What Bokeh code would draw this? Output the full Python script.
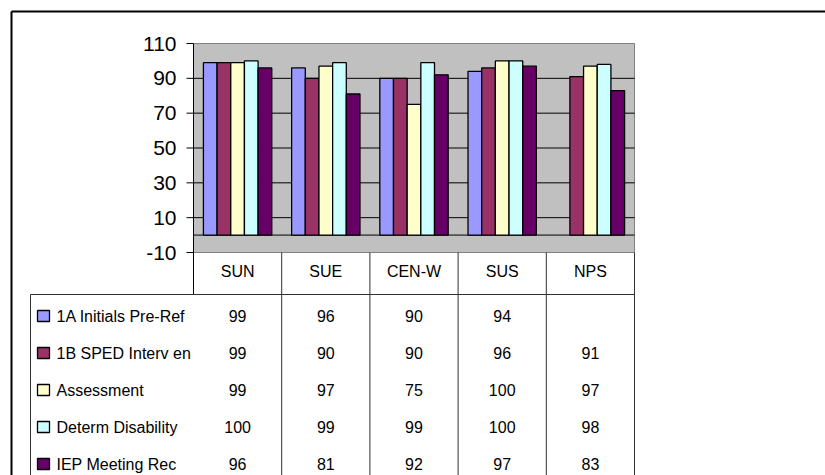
from bokeh.plotting import figure
from bokeh.models import Range1d, ColumnDataSource
from bokeh.transform import dodge
from bokeh.core.properties import value
from bokeh.embed import file_html
from bokeh.resources import INLINE

# ---------------- data ----------------
categories = ["SUN", "SUE", "CEN-W", "SUS", "NPS"]
series_names = ["1A Initials Pre-Ref", "1B SPED Interv en", "Assessment",
                "Determ Disability", "IEP Meeting Rec"]
initials_pre_ref = [99, 96, 90, 94, None]
sped_interven = [99, 90, 90, 96, 91]
assessment = [99, 97, 75, 100, 97]
determ_disability = [100, 99, 99, 100, 98]
iep_meeting_rec = [96, 81, 92, 97, 83]
y_ticks = [-10, 10, 30, 50, 70, 90, 110]
grid_ticks = [10, 30, 50, 70, 90]

series_values = [initials_pre_ref, sped_interven, assessment,
                 determ_disability, iep_meeting_rec]
colors = ["#9999FF", "#993366", "#FFFFCC", "#CCFFFF", "#660066"]

# ---------------- layout constants (page pixels) ----------------
W, H = 825, 475
PA_L, PA_R, PA_T, PA_B = 193, 634, 43, 252     # plot area
Y_MIN, Y_MAX = y_ticks[0], y_ticks[-1]
n = len(categories)
CAT_W = (PA_R - PA_L) / n                        # px per category
PX_PER_UNIT = (PA_B - PA_T) / (Y_MAX - Y_MIN)    # px per value unit
BAR_W = 0.155
FONT = "Liberation Sans"


def px_x(px):
    return (px - PA_L) / CAT_W


p = figure(width=W, height=H, output_backend="svg", toolbar_location=None,
           x_axis_type=None, y_axis_type=None, min_border=0,
           x_range=Range1d(px_x(0), px_x(W)),
           y_range=Range1d(Y_MIN - (H - PA_B) / PX_PER_UNIT,
                           Y_MAX + PA_T / PX_PER_UNIT))
# table rows measured downward in pixels from the plot-area bottom
p.extra_y_ranges = {"table": Range1d(H - PA_B, -PA_B)}
p.outline_line_color = None
p.background_fill_color = "white"
p.border_fill_color = "white"
p.grid.visible = False

# ---------------- chart area ----------------
p.quad(left=[0], right=[n], bottom=[Y_MIN], top=[Y_MAX],
       fill_color="#C0C0C0", line_color="#808080", line_width=1)
p.segment(x0=[0] * len(grid_ticks), x1=[n] * len(grid_ticks),
          y0=grid_ticks, y1=grid_ticks, line_color="black", line_width=1)
p.segment(x0=[0], x1=[n], y0=[0], y1=[0], line_color="black", line_width=1)

# value axis
p.segment(x0=[0], x1=[0], y0=[Y_MIN], y1=[Y_MAX], line_color="black", line_width=1)
p.segment(x0=[px_x(PA_L - 7)] * len(y_ticks), x1=[0] * len(y_ticks),
          y0=y_ticks, y1=y_ticks, line_color="black", line_width=1)
p.text(x=[px_x(PA_L - 17)] * len(y_ticks), y=y_ticks,
       text=[str(v) for v in y_ticks], text_align="right", text_baseline="middle",
       text_font=value(FONT), text_font_size="21px", text_color="black")

# bars
centers = [i + 0.5 for i in range(n)]
for k, vals in enumerate(series_values):
    src = ColumnDataSource(dict(xc=centers,
                                top=[float("nan") if v is None else v for v in vals]))
    p.vbar(x=dodge("xc", (k - 2) * BAR_W), top="top", bottom=0, width=BAR_W,
           source=src, fill_color=colors[k], line_color="black", line_width=1.3)

# ---------------- data table ----------------
T = "table"
TB = H - PA_B
HEADER_Y = 19
HEADER_LINE = 42
ROW0 = 63.5
ROW_H = 37
row_y = [ROW0 + i * ROW_H for i in range(len(series_names))]
LEG_L = px_x(30)
KEY_X = px_x(43)
NAME_X = px_x(56)
line_col = "#303030"

p.segment(x0=list(range(1, n + 1)), y0=[0] * n, x1=list(range(1, n + 1)), y1=[TB] * n,
          line_color=line_col, line_width=1, y_range_name=T)
p.segment(x0=[0], y0=[0], x1=[0], y1=[HEADER_LINE], line_color="black",
          line_width=1, y_range_name=T)
p.segment(x0=[LEG_L], y0=[HEADER_LINE], x1=[n], y1=[HEADER_LINE],
          line_color=line_col, line_width=1, y_range_name=T)
p.segment(x0=[LEG_L], y0=[HEADER_LINE], x1=[LEG_L], y1=[TB],
          line_color=line_col, line_width=1, y_range_name=T)

p.text(x=centers, y=[HEADER_Y] * n, text=categories, y_range_name=T,
       text_align="center", text_baseline="middle", text_font=value(FONT),
       text_font_size="16px", text_color="black")

for k, vals in enumerate(series_values):
    p.text(x=centers, y=[row_y[k]] * n, y_range_name=T,
           text=["" if v is None else str(v) for v in vals],
           text_align="center", text_baseline="middle", text_font=value(FONT),
           text_font_size="16px", text_color="black")

p.rect(x=[KEY_X] * len(series_names), y=row_y, width=12, height=11,
       width_units="screen", height_units="screen", fill_color=colors,
       line_color="black", line_width=1.3, y_range_name=T)
p.text(x=[NAME_X] * len(series_names), y=row_y, text=series_names, y_range_name=T,
       text_align="left", text_baseline="middle", text_font=value(FONT),
       text_font_size="16px", text_color="black")

# ---------------- outer chart frame ----------------
p.segment(x0=[px_x(11), px_x(11)], y0=[11 - PA_B, 11 - PA_B],
          x1=[px_x(W + 5), px_x(11)], y1=[11 - PA_B, TB + 5],
          line_color="black", line_width=2, y_range_name=T)

open("out.html", "w").write(file_html(p, INLINE))
